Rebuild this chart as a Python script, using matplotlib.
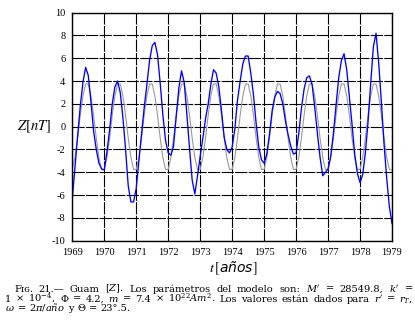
import numpy as np
import matplotlib
matplotlib.use('Agg')
import matplotlib.pyplot as plt

# monthly samples, Jan 1969 .. Jan 1979
year_start = 1969
per_year = 12

# observed Z (blue), nT
z_obs = [
    -6.3, -3.6, -0.8, 1.8, 3.9, 5.2, 4.5, 2.2, -0.4, -2.0, -3.2, -3.7,
    -3.8, -2.2, -0.3, 2.0, 3.5, 4.0, 3.0, 0.8, -2.0, -5.2, -6.6, -6.6,
    -5.4, -3.0, -0.6, 1.7, 3.7, 5.8, 7.1, 7.4, 6.3, 3.8, 1.0, -1.2,
    -2.3, -2.5, -1.7, 0.9, 3.4, 4.9, 3.9, 1.1, -1.9, -4.7, -5.9, -4.3,
    -2.6, -1.0, 0.7, 2.0, 3.7, 5.0, 4.7, 3.5, 1.4, -0.9, -2.0, -2.3,
    -1.8, -0.2, 2.3, 4.0, 5.5, 6.2, 6.2, 4.7, 2.8, 0.3, -1.8, -2.9,
    -3.2, -2.4, -0.7, 1.4, 2.6, 3.1, 2.9, 2.0, 0.5, -0.7, -1.7, -2.4,
    -2.3, -0.6, 1.6, 3.3, 4.3, 4.45, 3.7, 1.7, -0.6, -2.7, -4.3, -4.0,
    -3.7, -2.6, -0.6, 1.9, 4.3, 5.8, 6.4, 5.0, 2.6, 0.2, -2.4, -4.1,
    -4.9, -4.2, -2.3, 0.4, 3.8, 7.0, 8.2, 5.6, 2.2, -1.5, -4.5, -7.0,
    -8.5,
]

# model Z (gray), nT
z_model = [
    -3.7, -2.7, -1.0, 1.0, 2.7, 3.75, 3.75, 2.7, 1.0, -1.0, -2.7, -3.75,
    -3.75, -2.7, -1.0, 1.0, 2.7, 3.75, 3.75, 2.7, 1.0, -1.0, -2.7, -3.75,
    -3.75, -2.7, -1.0, 1.0, 2.7, 3.75, 3.75, 2.7, 1.0, -1.0, -2.7, -3.75,
    -3.75, -2.7, -1.0, 1.0, 2.7, 3.75, 3.75, 2.7, 1.0, -1.0, -2.7, -3.75,
    -3.75, -2.7, -1.0, 1.0, 2.7, 3.75, 3.75, 2.7, 1.0, -1.0, -2.7, -3.75,
    -3.75, -2.7, -1.0, 1.0, 2.7, 3.75, 3.75, 2.7, 1.0, -1.0, -2.7, -3.75,
    -3.75, -2.7, -1.0, 1.0, 2.7, 3.75, 3.75, 2.7, 1.0, -1.0, -2.7, -3.75,
    -3.75, -2.7, -1.0, 1.0, 2.7, 3.75, 3.75, 2.7, 1.0, -1.0, -2.7, -3.75,
    -3.75, -2.7, -1.0, 1.0, 2.7, 3.75, 3.75, 2.7, 1.0, -1.0, -2.7, -3.75,
    -3.75, -2.7, -1.0, 1.0, 2.7, 3.75, 3.75, 2.7, 1.0, -1.0, -2.7, -3.75,
    -3.8,
]

x_ticks = list(range(1969, 1980))
y_ticks = list(range(-10, 11, 2))

caption = [
    "F\u026a\u0262. 21.\u2014 Guam [$Z$]. Los parámetros del modelo son: $M'$ = 28549.8, $k'$ =",
    r"1 $\times$ $10^{-4}$, $\Phi$ = 4.2, $m$ = 7.4 $\times$ $10^{22}Am^{2}$. Los valores están dados para $r'$ = $r_T$,",
    r"$\omega$ = 2$\pi$/$\mathit{a\tilde{n}o}$ y $\Theta$ = 23°.5.",
]

plt.rcParams['font.family'] = ['Liberation Serif', 'DejaVu Serif']
plt.rcParams['mathtext.fontset'] = 'stix'
plt.rcParams['axes.unicode_minus'] = False

W, H = 415, 327
t = year_start + np.arange(len(z_obs)) / per_year

fig = plt.figure(figsize=(W / 100, H / 100), dpi=100)
ax = fig.add_axes([0.1742, 0.2639, 0.7704, 0.6973])

ax.plot(t, z_model, color='#9a9a9a', lw=0.8)
ax.plot(t, z_obs, color='#0000ff', lw=0.95)

ax.set_xlim(1969, 1979)
ax.set_ylim(-10, 10)
ax.set_xticks(x_ticks)
ax.set_yticks(y_ticks)
ax.tick_params(length=0, labelsize=7.5, pad=5)
ax.grid(True, color='black', lw=0.8, linestyle=(0, (11, 1.2)))
ax.set_axisbelow(True)
for s in ax.spines.values():
    s.set_linewidth(1.0)

# axis labels placed like the original
fig.text(34 / W, 1 - 126.7 / H, r'$Z[nT]$', fontsize=10.5,
         ha='center', va='center')
fig.text(233 / W, 1 - 268 / H, r'$t\,[$años$]$', fontsize=10,
         family=['DejaVu Sans'], style='italic', ha='center', va='center')

# caption, justified word by word (wide serif like the original)
cap_fs = 7.1
cap_family = ['DejaVu Serif']
renderer = fig.canvas.get_renderer()


def put_line(s, x_left, x_right, y_base, justify):
    words = s.split(' ')
    items = [fig.text(0, 0, w, fontsize=cap_fs, family=cap_family,
                      math_fontfamily='dejavuserif',
                      ha='left', va='baseline') for w in words]
    widths = [it.get_window_extent(renderer).width for it in items]
    gap = 3.0
    if justify:
        gap = max(1.5, (x_right - x_left - sum(widths)) / (len(words) - 1))
    x = x_left
    for it, w in zip(items, widths):
        it.set_position((x / W, 1 - y_base / H))
        x += w + gap


put_line(caption[0], 14, 413, 291.6, True)
put_line(caption[1], 5, 413, 301.6, True)
put_line(caption[2], 5, 413, 311.3, False)

fig.savefig('out.png', dpi=100)
